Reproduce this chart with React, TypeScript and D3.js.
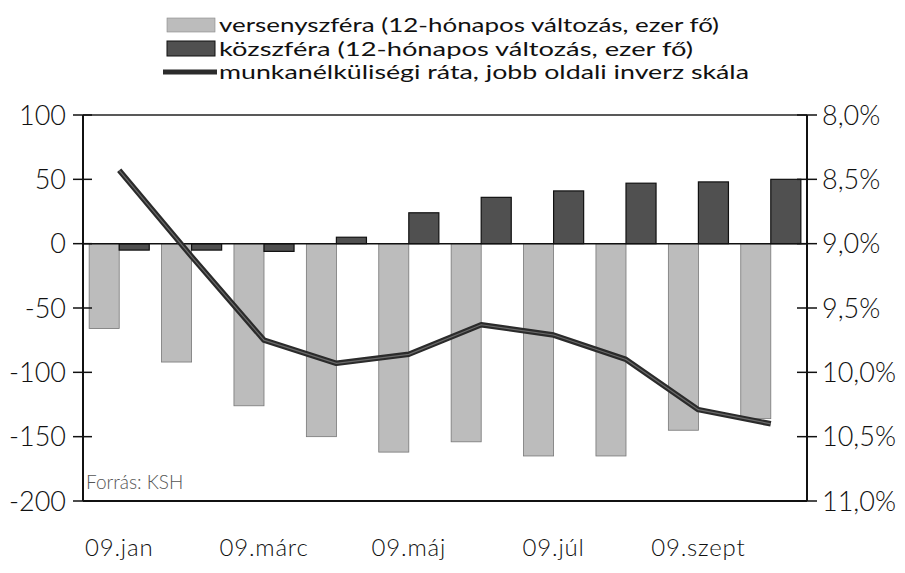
import React from "react";
import * as d3 from "d3";

const months = ["09.jan", "09.febr", "09.márc", "09.ápr", "09.máj", "09.jún", "09.júl", "09.aug", "09.szept", "09.okt"];
const tickMonths = ["09.jan", "09.márc", "09.máj", "09.júl", "09.szept"];
const versenyszfera = [-66, -92, -126, -150, -162, -154, -165, -165, -145, -136];
const kozszfera = [-5, -5, -6, 5, 24, 36, 41, 47, 48, 50];
const munkanelkuliseg = [8.43, 9.1, 9.75, 9.93, 9.86, 9.63, 9.71, 9.9, 10.29, 10.4];
const leftTicks = [100, 50, 0, -50, -100, -150, -200];
const rightTicks = [8.0, 8.5, 9.0, 9.5, 10.0, 10.5, 11.0];
const legendLabels = [
  "versenyszféra (12-hónapos változás, ezer fő)",
  "közszféra (12-hónapos változás, ezer fő)",
  "munkanélküliségi ráta, jobb oldali inverz skála",
];
const legendWidths = [500, 474, 530];

const W = 905;
const H = 573;
const L = 83;
const R = 807;
const T = 115;
const B = 501;
const FONT = "Lato, 'DejaVu Sans', sans-serif";
const LIGHT = "#bcbcbc";
const DARK = "#505050";
const LINE = "#2b2b2b";

export default function App() {
  const x = d3.scaleBand<string>().domain(months).range([L, R]).paddingInner(0.17).paddingOuter(0.085);
  const yL = d3.scaleLinear().domain([-200, 100]).range([B, T]);
  const yR = d3.scaleLinear().domain([11.0, 8.0]).range([B, T]);
  const bw = x.bandwidth() / 2;
  const cx = (m: string) => (x(m) as number) + x.bandwidth() / 2;
  const line = d3
    .line<number>()
    .x((_, i) => cx(months[i]))
    .y((d) => yR(d));
  const fmt = (v: number) => v.toFixed(1).replace(".", ",") + "%";

  return (
    <svg width={W} height={H} style={{ position: "absolute", left: 0, top: 0, background: "#fff" }} fontFamily={FONT}>
      {/* legend */}
      <g>
        <rect x={167} y={18} width={48} height={14} fill={LIGHT} stroke="#888" strokeWidth={0.6} />
        <rect x={167} y={41} width={48} height={15} fill={DARK} stroke="#111" strokeWidth={1} />
        <line x1={163} x2={217} y1={72} y2={72} stroke={LINE} strokeWidth={5} />
        {legendLabels.map((t, i) => (
          <text
            key={t}
            x={219}
            y={32 + i * 23.5}
            fontSize={20}
            fill="#111"
            textLength={legendWidths[i]}
            lengthAdjust="spacingAndGlyphs"
          >
            {t}
          </text>
        ))}
      </g>
      {/* frame lines */}
      <line x1={L} x2={R} y1={T} y2={T} stroke="#222" strokeWidth={1.5} />
      <line x1={L} x2={R} y1={B} y2={B} stroke="#111" strokeWidth={2} />
      {/* bars */}
      {months.map((m, i) => (
        <g key={m}>
          <rect
            x={x(m) as number}
            width={bw}
            y={Math.min(yL(0), yL(versenyszfera[i]))}
            height={Math.abs(yL(versenyszfera[i]) - yL(0))}
            fill={LIGHT}
            stroke="#777"
            strokeWidth={0.8}
          />
          <rect
            x={(x(m) as number) + bw}
            width={bw}
            y={Math.min(yL(0), yL(kozszfera[i]))}
            height={Math.abs(yL(kozszfera[i]) - yL(0))}
            fill={DARK}
            stroke="#111"
            strokeWidth={1.2}
          />
        </g>
      ))}
      {/* zero line */}
      <line x1={L} x2={R} y1={yL(0)} y2={yL(0)} stroke="#111" strokeWidth={1.5} />
      {/* axes */}
      <line x1={L} x2={L} y1={T} y2={B} stroke="#111" strokeWidth={2} />
      <line x1={R} x2={R} y1={T} y2={B} stroke="#111" strokeWidth={2} />
      {leftTicks.map((t) => (
        <g key={"l" + t}>
          <line x1={L - 10} x2={L + 9} y1={yL(t)} y2={yL(t)} stroke="#111" strokeWidth={1.5} />
          <text x={66} y={yL(t)} dy="0.36em" textAnchor="end" fontSize={27} fontWeight={300} fill="#111">
            {t}
          </text>
        </g>
      ))}
      {rightTicks.map((t) => (
        <g key={"r" + t}>
          <line x1={R - 10} x2={R + 10} y1={yR(t)} y2={yR(t)} stroke="#111" strokeWidth={1.5} />
          <text x={822} y={yR(t)} dy="0.36em" textAnchor="start" fontSize={27} fontWeight={300} fill="#111">
            {fmt(t)}
          </text>
        </g>
      ))}
      {tickMonths.map((m) => (
        <text
          key={m}
          x={cx(m)}
          y={556}
          textAnchor="middle"
          fontSize={24}
          fontWeight={300}
          letterSpacing={0.8}
          fill="#111"
        >
          {m}
        </text>
      ))}
      {/* unemployment line */}
      <path d={line(munkanelkuliseg) || ""} fill="none" stroke={LINE} strokeWidth={5.5} strokeLinejoin="round" />
      <path d={line(munkanelkuliseg) || ""} fill="none" stroke="#6a6a6a" strokeWidth={1.2} strokeLinejoin="round" />
      <text x={86} y={489} fontSize={19} fill="#555" fontWeight={300}>
        Forrás: KSH
      </text>
    </svg>
  );
}
